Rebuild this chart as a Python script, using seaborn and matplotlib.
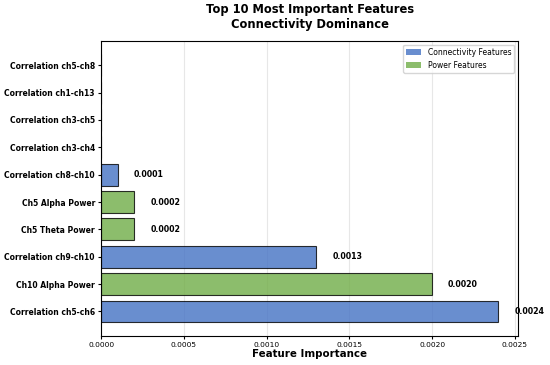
import matplotlib
matplotlib.use('Agg')
import matplotlib.pyplot as plt
from matplotlib.patches import Patch
import seaborn as sns
import pandas as pd

# Feature names (top to bottom) and their importance values
features = ['Correlation ch5-ch8', 'Correlation ch1-ch13', 'Correlation ch3-ch5',
            'Correlation ch3-ch4', 'Correlation ch8-ch10', 'Ch5 Alpha Power',
            'Ch5 Theta Power', 'Correlation ch9-ch10', 'Ch10 Alpha Power',
            'Correlation ch5-ch6']
importances = [0.0, 0.0, 0.0, 0.0, 0.0001, 0.0002, 0.0002, 0.0013, 0.0020, 0.0024]
feature_types = ['Connectivity Features'] * 5 + ['Power Features'] * 2 + \
                ['Connectivity Features', 'Power Features', 'Connectivity Features']

df = pd.DataFrame({'feature': features, 'importance': importances, 'type': feature_types})

palette = {'Connectivity Features': '#4472C4', 'Power Features': '#70AD47'}

fig, ax = plt.subplots(figsize=(5.5, 3.65), dpi=100)
fig.subplots_adjust(left=0.184, right=0.942, top=0.888, bottom=0.08)

sns.barplot(data=df, y='feature', x='importance', hue='type', palette=palette,
            hue_order=['Connectivity Features', 'Power Features'],
            dodge=False, width=0.8, alpha=0.8, saturation=1, edgecolor='black',
            linewidth=0.8, orient='h', legend=False, ax=ax)

max_val = max(importances)
ax.set_xlim(0, max_val * 1.05)
ax.set_ylim(len(features) - 1 + 0.89, -0.89)

# value labels next to bars
for i, val in enumerate(importances):
    if val > 0:
        ax.text(val + max_val * 0.04, i, f'{val:.4f}', va='center', ha='left',
                fontsize=5.7, fontweight='bold')

ax.set_title('Top 10 Most Important Features\nConnectivity Dominance',
             fontsize=8.3, fontweight='bold', pad=9)
ax.set_xlabel('Feature Importance', fontsize=7.4, fontweight='bold', labelpad=1)
ax.set_ylabel('')
ax.tick_params(axis='x', labelsize=5.4, length=2.5, pad=2)
ax.tick_params(axis='y', labelsize=5.5, length=2.5, pad=2)
for lbl in ax.get_yticklabels():
    lbl.set_fontweight('bold')

ax.grid(axis='x', alpha=0.3)
ax.set_axisbelow(True)

handles = [Patch(facecolor=palette[k], alpha=0.8, label=k) for k in palette]
ax.legend(handles=handles, loc='upper right', fontsize=5.5)

plt.savefig('out.png', dpi=100)
